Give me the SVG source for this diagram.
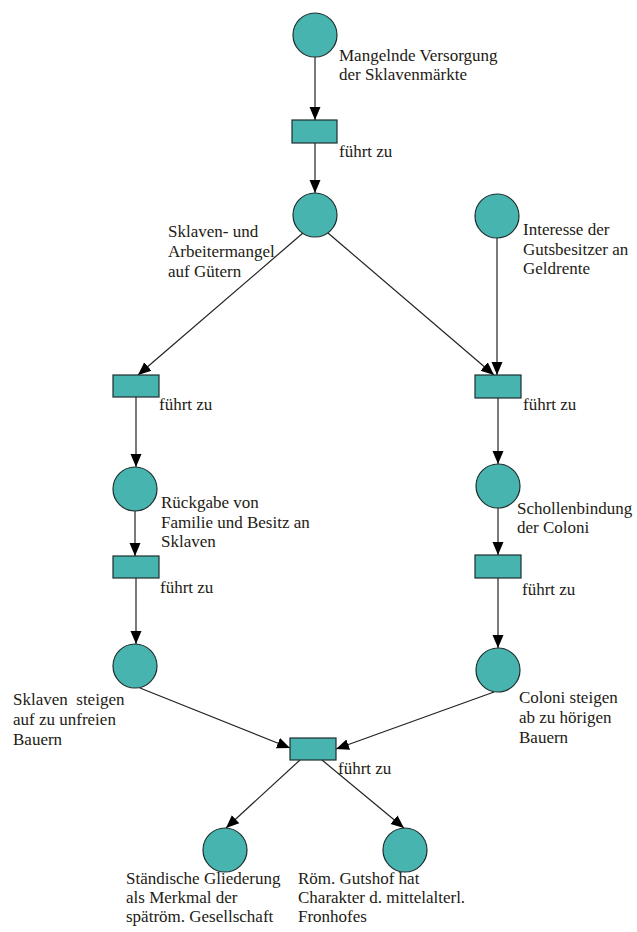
<svg xmlns="http://www.w3.org/2000/svg" width="637" height="932" viewBox="0 0 637 932">
<style>
.p{fill:#48b4b0;stroke:#1e2e2e;stroke-width:1.2}
.t{fill:#48b4b0;stroke:#1e2e2e;stroke-width:1.2}
text{font-family:'Liberation Serif','Times New Roman',serif;font-size:17px;fill:#221a14}
.e{stroke:#222;stroke-width:1.2;fill:none;marker-end:url(#ah)}
</style>
<defs>
<marker id="ah" markerUnits="userSpaceOnUse" markerWidth="14" markerHeight="14" viewBox="0 0 14 14" refX="13" refY="7" orient="auto">
<path d="M0,1.5 L13,7 L0,12.5 Z" fill="#000"/>
</marker>
</defs>
<rect width="637" height="932" fill="#fff"/>
<g id="connectors">
<line class="e" x1="315" y1="57" x2="315" y2="120"/>
<line class="e" x1="315" y1="143" x2="315" y2="193"/>
<line class="e" x1="303" y1="233" x2="138" y2="375"/>
<line class="e" x1="328" y1="233" x2="494" y2="375"/>
<line class="e" x1="497" y1="238" x2="497" y2="375"/>
<line class="e" x1="136" y1="397" x2="136" y2="467"/>
<line class="e" x1="135" y1="511" x2="135" y2="556"/>
<line class="e" x1="136" y1="578" x2="136" y2="644"/>
<line class="e" x1="498" y1="398" x2="498" y2="464"/>
<line class="e" x1="498" y1="508" x2="498" y2="555"/>
<line class="e" x1="498" y1="578" x2="498" y2="648"/>
<line class="e" x1="140" y1="688" x2="290" y2="748"/>
<line class="e" x1="494" y1="692" x2="336" y2="749"/>
<line class="e" x1="300" y1="760" x2="226" y2="828"/>
<line class="e" x1="322" y1="760" x2="404" y2="828"/>
</g>
<g id="p1"><circle class="p" cx="315" cy="35" r="22"/><text x="339" y="61">Mangelnde Versorgung</text><text x="339" y="80">der Sklavenmärkte</text></g>
<g id="t1"><rect class="t" x="292" y="120" width="45" height="23"/><text x="339" y="157">führt zu</text></g>
<g id="p2"><circle class="p" cx="315" cy="215" r="22"/><text x="168" y="237">Sklaven- und</text><text x="168" y="257">Arbeitermangel</text><text x="168" y="277">auf Gütern</text></g>
<g id="p3"><circle class="p" cx="497" cy="216" r="22"/><text x="523" y="235">Interesse der</text><text x="523" y="255">Gutsbesitzer an</text><text x="523" y="274">Geldrente</text></g>
<g id="t2"><rect class="t" x="113" y="375" width="46" height="22"/><text x="159" y="410">führt zu</text></g>
<g id="t3"><rect class="t" x="475" y="375" width="46" height="23"/><text x="523" y="410">führt zu</text></g>
<g id="p4"><circle class="p" cx="135" cy="489" r="22"/><text x="161" y="508">Rückgabe von</text><text x="161" y="528">Familie und Besitz an</text><text x="161" y="547">Sklaven</text></g>
<g id="p5"><circle class="p" cx="498" cy="486" r="22"/><text x="517" y="514">Schollenbindung</text><text x="517" y="533">der Coloni</text></g>
<g id="t4"><rect class="t" x="113" y="556" width="46" height="22"/><text x="160" y="593">führt zu</text></g>
<g id="t5"><rect class="t" x="475" y="555" width="46" height="23"/><text x="522" y="595">führt zu</text></g>
<g id="p6"><circle class="p" cx="135" cy="666" r="22"/><text x="13" y="705" xml:space="preserve">Sklaven  steigen</text><text x="13" y="725">auf zu unfreien</text><text x="13" y="745">Bauern</text></g>
<g id="p7"><circle class="p" cx="498" cy="670" r="22"/><text x="519" y="703">Coloni steigen</text><text x="519" y="723">ab zu hörigen</text><text x="519" y="743">Bauern</text></g>
<g id="t6"><rect class="t" x="290" y="738" width="46" height="22"/><text x="338" y="774">führt zu</text></g>
<g id="p8"><circle class="p" cx="225" cy="850" r="22"/><text x="126" y="884">Ständische Gliederung</text><text x="126" y="903">als Merkmal der</text><text x="126" y="922">spätröm. Gesellschaft</text></g>
<g id="p9"><circle class="p" cx="405" cy="850" r="22"/><text x="298" y="884">Röm. Gutshof hat</text><text x="298" y="903">Charakter d. mittelalterl.</text><text x="298" y="922">Fronhofes</text></g>
</svg>
